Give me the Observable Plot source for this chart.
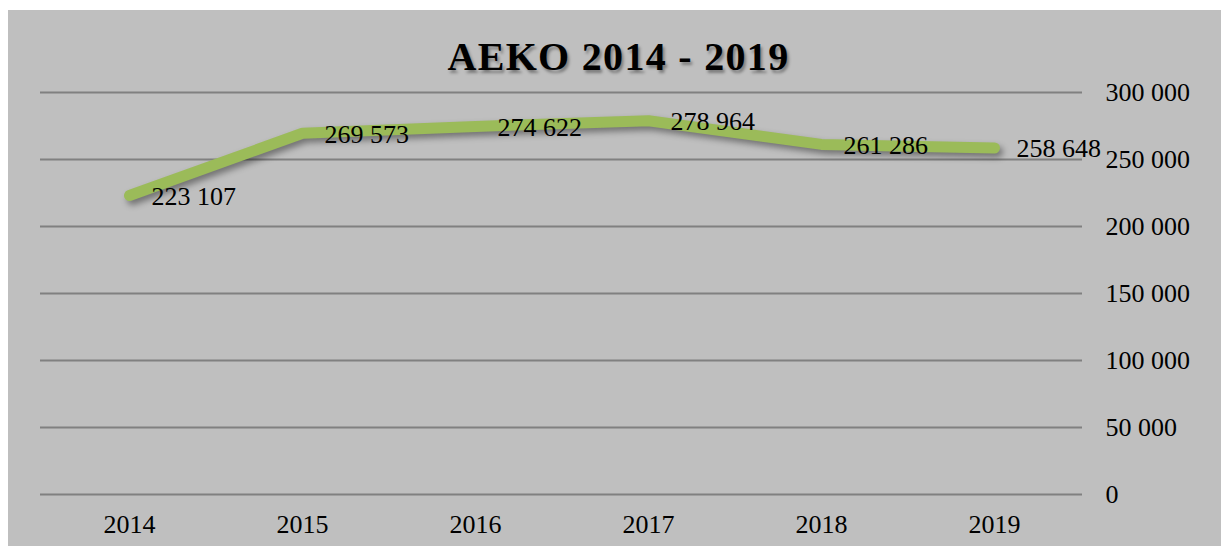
<!DOCTYPE html>
<html>
<head>
<meta charset="utf-8">
<script src="https://cdn.jsdelivr.net/npm/d3@7"></script>
<script src="https://cdn.jsdelivr.net/npm/@observablehq/plot@0.6"></script>
<style>
  html, body { margin: 0; padding: 0; background: #ffffff; width: 1221px; height: 546px; overflow: hidden; }
  #wrap { position: absolute; left: 8px; top: 10px; width: 1213px; height: 536px; background: #bfbfbf; }
  #title { position: absolute; left: 0; width: 1221px; top: 27px; text-align: center; margin-left: 0;
    font-family: "Liberation Serif", "Times New Roman", serif; font-weight: bold; font-size: 40px; letter-spacing: 1.3px;
    color: #000; text-shadow: 2px 3px 3px rgba(0,0,0,0.35); line-height: 40px; }
  #chart { position: absolute; left: 0; top: 0; }
  #chart [aria-label="line"] path { filter: drop-shadow(3px 4px 3px rgba(0,0,0,0.4)); }
</style>
</head>
<body>
<div id="wrap">
  <div id="chart"></div>
  <div id="title">AEKO 2014 - 2019</div>
</div>
<script>
const years = ["2014", "2015", "2016", "2017", "2018", "2019"];
const values = [223107, 269573, 274622, 278964, 261286, 258648];
const yTicks = [0, 50000, 100000, 150000, 200000, 250000, 300000];

const data = years.map((y, i) => ({ year: y, value: values[i] }));
const fmt = d3.formatLocale({ thousands: " ", grouping: [3], decimal: "," }).format(",");

const chart = Plot.plot({
  width: 1213,
  height: 536,
  marginLeft: 32,
  marginRight: 139,
  marginTop: 82,
  marginBottom: 52,
  style: { background: "#bfbfbf", fontFamily: "'Liberation Serif', 'Times New Roman', serif", fontSize: "26px", color: "#000", overflow: "visible" },
  x: { type: "point", domain: years, padding: 0.5 },
  y: { domain: [0, 300000] },
  marks: [
    Plot.gridY(yTicks, { stroke: "#808080", strokeOpacity: 1, strokeWidth: 2 }),
    Plot.axisY(yTicks, { anchor: "right", tickSize: 0, tickPadding: 23, tickFormat: fmt, label: null, fontSize: 26, fill: "#000" }),
    Plot.axisX({ anchor: "bottom", tickSize: 0, tickPadding: 20, label: null, fontSize: 26, fill: "#000" }),
    Plot.line(data, { x: "year", y: "value", stroke: "#9bbb59", strokeWidth: 11, strokeLinecap: "round", strokeLinejoin: "round" }),
    Plot.text(data, { x: "year", y: "value", text: d => fmt(d.value), textAnchor: "start", dx: 22, dy: 1, fontSize: 26, fill: "#000" })
  ]
});
document.getElementById("chart").appendChild(chart);
</script>
</body>
</html>
